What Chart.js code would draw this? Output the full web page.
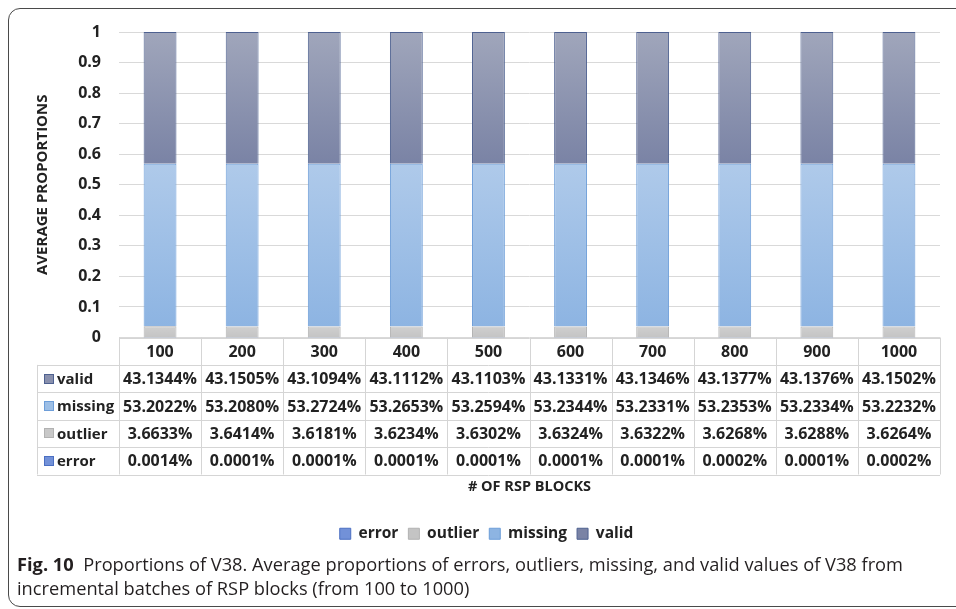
<!DOCTYPE html>
<html><head><meta charset="utf-8">
<script src="https://cdn.jsdelivr.net/npm/chart.js@4"></script>
<style>
html,body{margin:0;padding:0;background:#fff;width:956px;height:609px;overflow:hidden;}
#frame{position:absolute;left:8px;top:8px;width:980px;height:599px;border:1.5px solid #4a4a4a;border-radius:12px;box-sizing:border-box;}
#wrap{position:absolute;left:0;top:0;width:956px;height:609px;}
.cap{position:absolute;left:17px;white-space:nowrap;font-family:"Open Sans",sans-serif;font-size:18.5px;line-height:24px;color:#231f20;transform-origin:0 0;}
</style></head>
<body>
<div id="frame"></div>
<div id="wrap"><canvas id="c"></canvas></div>
<div class="cap" id="cap1" style="top:552px"><b>Fig. 10</b>&nbsp; Proportions of V38. Average proportions of errors, outliers, missing, and valid values of V38 from</div>
<div class="cap" id="cap2" style="top:576px">incremental batches of RSP blocks (from 100 to 1000)</div>
<script>
// ---- data (percent) ----
const categories = ['100','200','300','400','500','600','700','800','900','1000'];
const errorPct   = [0.0014, 0.0001, 0.0001, 0.0001, 0.0001, 0.0001, 0.0001, 0.0002, 0.0001, 0.0002];
const outlierPct = [3.6633, 3.6414, 3.6181, 3.6234, 3.6302, 3.6324, 3.6322, 3.6268, 3.6288, 3.6264];
const missingPct = [53.2022, 53.2080, 53.2724, 53.2653, 53.2594, 53.2344, 53.2331, 53.2353, 53.2334, 53.2232];
const validPct   = [43.1344, 43.1505, 43.1094, 43.1112, 43.1103, 43.1331, 43.1346, 43.1377, 43.1376, 43.1502];
const seriesNames = ['error','outlier','missing','valid'];
const yTickValues = [0, 0.1, 0.2, 0.3, 0.4, 0.5, 0.6, 0.7, 0.8, 0.9, 1];

// scale the caption lines to the reference width
(function(){
  const c1 = document.getElementById('cap1'), c2 = document.getElementById('cap2');
  const k = 886 / c1.getBoundingClientRect().width;
  c1.style.transform = 'scaleX(' + k + ')';
  c2.style.transform = 'scaleX(' + k + ')';
})();

const seriesPct = [errorPct, outlierPct, missingPct, validPct];
const toFrac = a => a.map(v => v / 100);

const styles = [
  {solid:'#7291d8', top:'#86a2e0', bot:'#6b8bd4', border:'#4b6fc2'},
  {solid:'#c8c8c8', top:'#cfcfcf', bot:'#c4c4c4', border:'#b2b2b2'},
  {solid:'#9dbfe6', top:'#afcaea', bot:'#8db4e2', border:'#6d9ed9'},
  {solid:'#8990ad', top:'#a0a6bb', bot:'#7a83a5', border:'#4e6190'}
];

function gradFor(di){
  return function(ctx){
    const st = styles[di];
    if (ctx.type !== 'data') return st.solid;
    const chart = ctx.chart, y = chart.scales.y;
    if (!y || !chart.chartArea) return st.solid;
    const i = ctx.dataIndex;
    let base = 0;
    for (let k = 0; k < di; k++) base += seriesPct[k][i] / 100;
    const topV = base + seriesPct[di][i] / 100;
    const y0 = y.getPixelForValue(topV), y1 = y.getPixelForValue(base);
    if (!isFinite(y0) || !isFinite(y1) || Math.abs(y1 - y0) < 1) return st.solid;
    const g = chart.ctx.createLinearGradient(0, y0, 0, y1);
    g.addColorStop(0, st.top);
    g.addColorStop(1, st.bot);
    return g;
  };
}

const datasets = seriesNames.map((name, di) => ({
  label: name,
  data: toFrac(seriesPct[di]),
  backgroundColor: gradFor(di),
  borderColor: styles[di].border,
  borderWidth: 1,
  barPercentage: 0.4,
  categoryPercentage: 1.0
}));

const textColor = '#222222';
const fontFam = "'Open Sans', sans-serif";

const tablePlugin = {
  id: 'dataTable',
  afterDraw(chart){
    const ctx = chart.ctx, x = chart.scales.x, area = chart.chartArea;
    const n = categories.length;
    const left = area.left, right = area.right;
    const colW = (right - left) / n;
    const top = area.bottom;
    const rowH = 27.4;
    const keyLeft = 37;
    const rows = [3, 2, 1, 0]; // valid, missing, outlier, error
    const bottom = top + rowH * (rows.length + 1);
    const px = v => Math.round(v) + 0.5;
    ctx.save();
    ctx.strokeStyle = '#d5d5d5';
    ctx.lineWidth = 1;
    ctx.beginPath();
    ctx.moveTo(left, px(top)); ctx.lineTo(right, px(top));
    for (let r = 1; r <= rows.length + 1; r++) {
      const yy = px(top + r * rowH);
      ctx.moveTo(keyLeft, yy); ctx.lineTo(right, yy);
    }
    for (let c = 0; c <= n; c++) {
      const xx = px(left + c * colW);
      ctx.moveTo(xx, top); ctx.lineTo(xx, bottom);
    }
    ctx.moveTo(px(keyLeft), top + rowH); ctx.lineTo(px(keyLeft), bottom);
    ctx.stroke();

    ctx.fillStyle = textColor;
    ctx.textBaseline = 'middle';
    ctx.textAlign = 'center';
    ctx.font = "bold 16px " + fontFam;
    categories.forEach((cat, i) => {
      ctx.fillText(cat, x.getPixelForValue(i), top + rowH / 2 + 1);
    });
    rows.forEach((di, r) => {
      const cy = top + (r + 1) * rowH + rowH / 2 + 1;
      const st = styles[di];
      ctx.fillStyle = st.solid;
      ctx.fillRect(44, Math.round(cy - 6), 10, 10);
      ctx.strokeStyle = st.border;
      ctx.strokeRect(44.5, Math.round(cy - 6) + 0.5, 9, 9);
      ctx.fillStyle = textColor;
      ctx.textAlign = 'left';
      ctx.font = "bold 15px " + fontFam;
      ctx.fillText(seriesNames[di], 57, cy);
      ctx.textAlign = 'center';
      ctx.font = "bold 16px " + fontFam;
      seriesPct[di].forEach((v, i) => {
        ctx.fillText(v.toFixed(4) + '%', x.getPixelForValue(i), cy);
      });
    });
    ctx.restore();
  }
};

new Chart(document.getElementById('c'), {
  type: 'bar',
  data: { labels: categories, datasets },
  plugins: [tablePlugin],
  options: {
    responsive: true,
    maintainAspectRatio: false,
    animation: false,
    layout: { padding: { left: 33, right: 16, top: 32, bottom: 57.5 } },
    plugins: {
      tooltip: { enabled: false },
      legend: {
        position: 'bottom',
        labels: {
          boxWidth: 11, boxHeight: 11, padding: 10,
          color: textColor,
          font: { family: fontFam, size: 15.5, weight: 'bold' }
        }
      }
    },
    scales: {
      x: {
        stacked: true,
        offset: true,
        grid: { display: false, drawTicks: false },
        border: { display: false },
        ticks: { display: false },
        title: {
          display: true, text: '# OF RSP BLOCKS', color: textColor,
          font: { family: fontFam, size: 14.5, weight: 'bold' },
          padding: { top: 140.6, bottom: 20.5 }
        }
      },
      y: {
        stacked: true,
        min: 0, max: 1,
        afterFit(scale){ scale.width = 86; },
        afterBuildTicks(scale){ scale.ticks = yTickValues.map(v => ({ value: v })); },
        grid: { color: '#d9d9d9', drawTicks: false, lineWidth: 1 },
        border: { display: false },
        ticks: {
          padding: 18,
          color: textColor,
          font: { family: fontFam, size: 16, weight: 'bold' },
          callback: v => String(Math.round(v * 10) / 10)
        },
        title: {
          display: true, text: 'AVERAGE PROPORTIONS', color: textColor,
          font: { family: fontFam, size: 15, weight: 'bold' },
          padding: { top: 1, bottom: 0 }
        }
      }
    }
  }
});
</script>
</body></html>
